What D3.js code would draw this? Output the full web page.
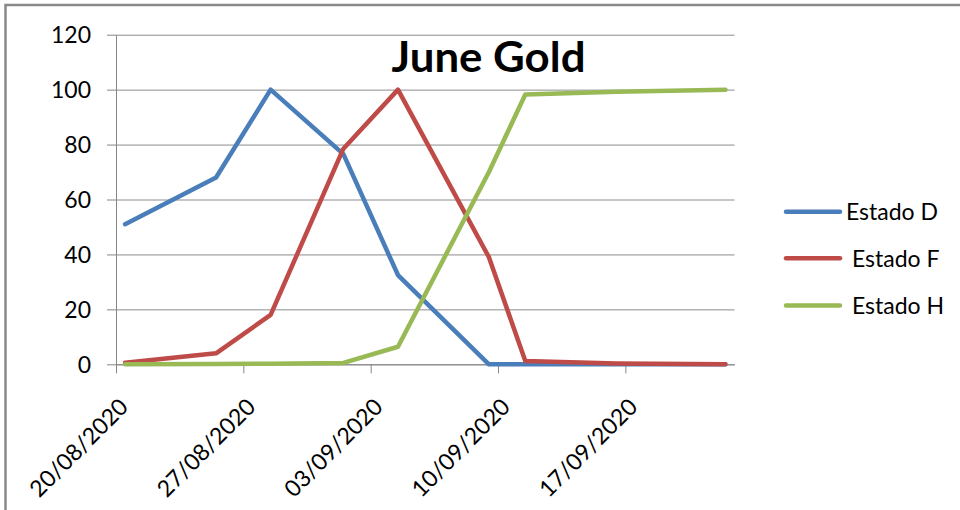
<!DOCTYPE html>
<html>
<head>
<meta charset="utf-8">
<script src="https://cdn.jsdelivr.net/npm/d3@7"></script>
<style>
  body { margin: 0; background: #fff; }
  svg { display: block; font-family: Lato, 'Open Sans', sans-serif; }
  .axis path, .axis line { stroke: #868686; }
  .axis text { fill: #000; font-size: 23px; font-family: Lato, sans-serif; }
  .grid line { stroke: #8c8c8c; }
  .grid path { display: none; }
</style>
</head>
<body>
<div id="chart-area"></div>
<script>
// data
const dates = ['2020-08-20', '2020-08-25', '2020-08-28', '2020-09-01', '2020-09-04',
	'2020-09-09', '2020-09-11', '2020-09-16', '2020-09-22']
const estadoD = [51, 68, 100, 76.5, 32.5, 0, 0, 0, 0]
const estadoF = [0.6, 4, 18, 78.5, 100, 39, 1.2, 0.3, 0]
const estadoH = [0, 0.1, 0.2, 0.5, 6.4, 70, 98.2, 99.2, 100]
const seriesNames = ['Estado D', 'Estado F', 'Estado H']
const seriesColors = ['#4a7ebb', '#be4b48', '#98b954']
const yTicks = [0, 20, 40, 60, 80, 100, 120]
const xTicks = ['2020-08-20', '2020-08-27', '2020-09-03', '2020-09-10', '2020-09-17']
const titleText = 'June Gold'

// Sizing
const W = 960, H = 510
const PLOT = { LEFT: 116, RIGHT: 734.5, TOP: 34.7, BOTTOM: 364.3 }

const parse = d3.utcParse('%Y-%m-%d')
const fmt = d3.utcFormat('%d/%m/%Y')

const svg = d3.select('#chart-area').append('svg')
	.attr('width', W)
	.attr('height', H)

svg.append('rect').attr('width', W).attr('height', H).attr('fill', '#fff')

// outer frame of the chart object
svg.append('rect')
	.attr('x', 5.5).attr('y', 5)
	.attr('width', 1000).attr('height', 600)
	.attr('fill', 'none')
	.attr('stroke', '#8a8a8a')
	.attr('stroke-width', 2.5)

// scales: date axis, one slot per day, points sit in the middle of the slot
const x = d3.scaleUtc()
	.domain([parse('2020-08-20'), parse('2020-09-23')])
	.range([PLOT.LEFT, PLOT.RIGHT])

const y = d3.scaleLinear()
	.domain([0, 120])
	.range([PLOT.BOTTOM, PLOT.TOP])

const xMid = d => x(d3.utcHour.offset(parse(d), 12))

// gridlines
svg.append('g')
	.attr('class', 'grid')
	.attr('transform', `translate(${PLOT.LEFT},0)`)
	.call(d3.axisLeft(y).tickValues(yTicks).tickSize(-(PLOT.RIGHT - PLOT.LEFT)).tickFormat(''))

// y axis
const yAxis = svg.append('g')
	.attr('class', 'axis')
	.attr('transform', `translate(${PLOT.LEFT},0)`)
	.call(d3.axisLeft(y).tickValues(yTicks).tickSize(9).tickSizeOuter(0).tickPadding(16))
yAxis.selectAll('text').attr('dy', '0.36em')

// x axis
const xAxis = svg.append('g')
	.attr('class', 'axis')
	.attr('transform', `translate(0,${PLOT.BOTTOM})`)
	.call(d3.axisBottom(x).tickValues(xTicks.map(parse)).tickFormat(fmt).tickSize(9).tickSizeOuter(0))

xAxis.selectAll('text')
	.attr('y', 0)
	.attr('dy', 0)
	.attr('text-anchor', 'end')
	.attr('transform', 'translate(13,44) rotate(-45)')

// lines
const line = d3.line()
	.x((d, i) => xMid(dates[i]))
	.y(d => y(d))

const allSeries = [estadoD, estadoF, estadoH]

svg.append('g').selectAll('path')
	.data(allSeries)
	.enter().append('path')
	.attr('d', d => line(d))
	.attr('fill', 'none')
	.attr('stroke', (d, i) => seriesColors[i])
	.attr('stroke-width', 4.5)
	.attr('stroke-linejoin', 'round')
	.attr('stroke-linecap', 'round')

// title
svg.append('text')
	.attr('x', 391.5)
	.attr('y', 71.5)
	.attr('font-family', 'Lato, sans-serif')
	.attr('font-weight', 'bold')
	.attr('font-size', '42px')
	.attr('textLength', 194)
	.attr('lengthAdjust', 'spacingAndGlyphs')
	.attr('fill', '#000')
	.text(titleText)

// legend
const legendY = [211.7, 258.3, 305.5]
const legendTextX = [846, 852, 852]
const legend = svg.append('g')
seriesNames.forEach((name, i) => {
	legend.append('line')
		.attr('x1', 786).attr('x2', 840)
		.attr('y1', legendY[i]).attr('y2', legendY[i])
		.attr('stroke', seriesColors[i])
		.attr('stroke-width', 4.5)
		.attr('stroke-linecap', 'round')
	legend.append('text')
		.attr('x', legendTextX[i])
		.attr('y', legendY[i])
		.attr('dy', '0.36em')
		.attr('font-size', '23px')
		.attr('fill', '#000')
		.text(name)
})
</script>
</body>
</html>
